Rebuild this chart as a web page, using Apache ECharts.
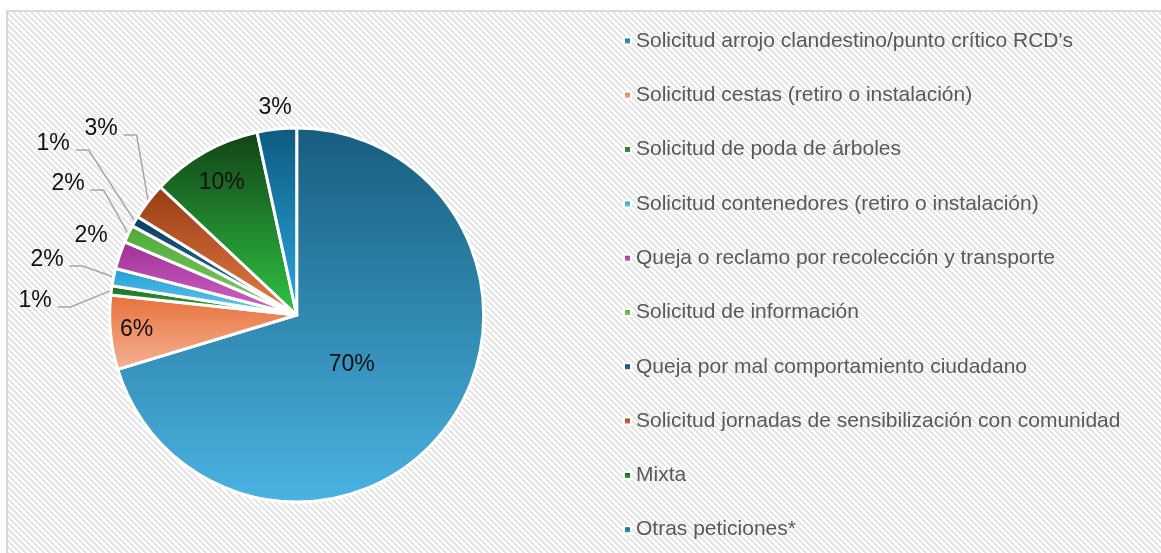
<!DOCTYPE html>
<html><head><meta charset="utf-8">
<script src="https://cdn.jsdelivr.net/npm/echarts@6/dist/echarts.min.js"></script>
<style>html,body{margin:0;padding:0;background:#fff}#c{width:1161px;height:553px}</style>
</head><body><div id="c"></div>
<script>
const categories = [
  "Solicitud arrojo clandestino/punto crítico RCD's",
  "Solicitud cestas (retiro o instalación)",
  "Solicitud de poda de árboles",
  "Solicitud contenedores (retiro o instalación)",
  "Queja o reclamo por recolección y transporte",
  "Solicitud de información",
  "Queja por mal comportamiento ciudadano",
  "Solicitud jornadas de sensibilización con comunidad",
  "Mixta",
  "Otras peticiones*"
];
const values = [70.3, 6.4, 0.8, 1.5, 2.4, 1.5, 0.9, 3.2, 9.6, 3.4];
const topColors = ['#175d7e', '#e8703a', '#1e6e22', '#1f9cd4', '#9e2f96', '#4ea83a', '#0d3e5e', '#963c12', '#124216', '#0d5a80'];
const bottomColors = ['#4ab3e2', '#f4b396', '#3ea53e', '#6dcbef', '#d266c9', '#86cc66', '#2a78a8', '#e87c47', '#2fc444', '#2aa9e0'];

// label layout (pixel anchors of label centres) and which labels use a leader line
const labelCenters = [[351.7,365],[136.7,330],[35,301],[47,260],[91,236],[68,184],[53,144],[101,129],[221.7,182.5],[275,107.5]];
const leaderLine = [false,false,true,true,false,true,true,true,false,false];

const pc = document.createElement('canvas'); pc.width = 6; pc.height = 6;
const g = pc.getContext('2d');
g.fillStyle = '#ffffff'; g.fillRect(0,0,6,6);
g.fillStyle = '#e6e6e6';
for (let i = 0; i < 6; i++) { g.fillRect(i, i, 3, 1); g.fillRect(i - 6, i, 3, 1); }

const chart = echarts.init(document.getElementById('c'), null, {renderer: 'canvas'});
const data = categories.map((name, i) => ({
  name: name,
  value: values[i],
  itemStyle: {
    color: new echarts.graphic.LinearGradient(0, 0, 0, 1, [
      {offset: 0, color: topColors[i]}, {offset: 1, color: bottomColors[i]}
    ])
  },
  labelLine: {show: leaderLine[i]}
}));

chart.setOption({
  animation: false,
  graphic: [{
    type: 'rect', z: 0, silent: true,
    shape: {x: 7, y: 11, width: 1170, height: 560},
    style: {fill: {image: pc, repeat: 'repeat'}, stroke: '#d9d9d9', lineWidth: 2}
  }],
  legend: {
    orient: 'vertical',
    left: 618, top: 24,
    itemWidth: 7, itemHeight: 7,
    itemGap: 30.3,
    icon: 'rect',
    selectedMode: false,
    textStyle: {fontFamily: 'Liberation Sans, Arial, sans-serif', fontSize: 21, color: '#595959', lineHeight: 24},
    data: categories
  },
  series: [{
    type: 'pie',
    center: [296.7, 315],
    radius: 187,
    startAngle: 90,
    clockwise: true,
    avoidLabelOverlap: false,
    itemStyle: {borderColor: '#ffffff', borderWidth: 3},
    label: {
      show: true, position: 'outside',
      fontFamily: 'Liberation Sans, Arial, sans-serif', fontSize: 23, color: '#111',
      formatter: p => Math.round(p.percent) + '%'
    },
    labelLine: {lineStyle: {color: '#a6a6a6', width: 1.5}, length: 10, length2: 10},
    labelLayout: function (params) {
      const i = params.dataIndex;
      const c = labelCenters[i];
      const res = {x: c[0], y: c[1], align: 'center', verticalAlign: 'middle', hideOverlap: false, moveOverlap: null};
      if (leaderLine[i] && params.labelLinePoints) {
        const p0 = params.labelLinePoints[0];
        const right = c[0] + params.labelRect.width / 2;
        const ly = c[1] + 6;
        res.labelLinePoints = [p0, [right + 19, ly], [right + 6, ly]];
      }
      return res;
    },
    data: data
  }]
});
</script></body></html>
